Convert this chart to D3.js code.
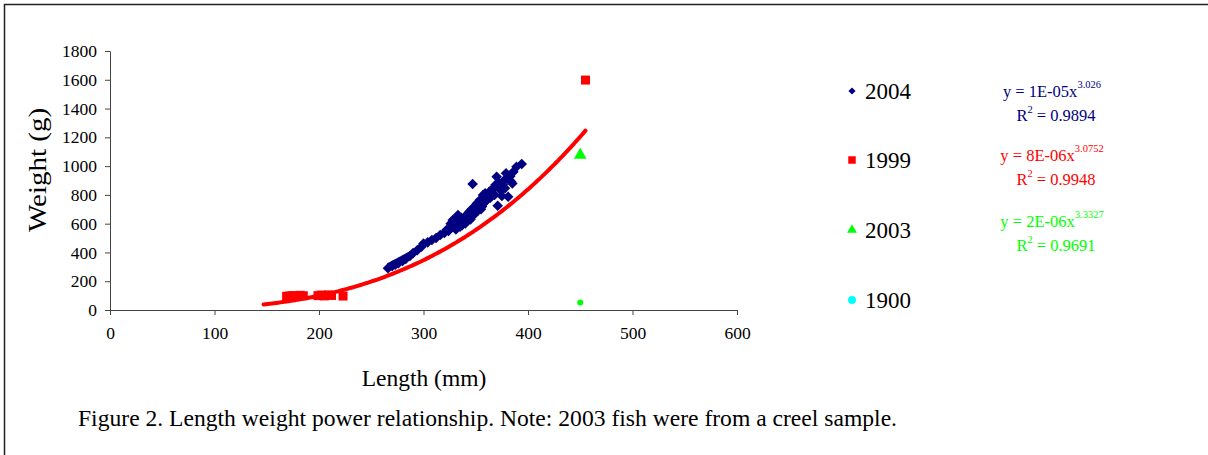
<!DOCTYPE html>
<html>
<head>
<meta charset="utf-8">
<script src="https://cdn.jsdelivr.net/npm/d3@7"></script>
<style>
  body { margin: 0; background: #fff; }
  text { font-family: "Liberation Serif", "Times New Roman", serif; }
</style>
</head>
<body>
<svg id="chart"></svg>
<script>
// ---- data ----
const len2004 = [266, 270, 273, 276, 280, 283, 287, 290, 294, 298, 300, 304, 308, 312, 316, 320, 322, 324, 327, 328,
  330, 332, 333, 335, 336, 338, 340, 342, 343, 344, 346, 347, 348, 349, 351, 352, 354, 356, 357, 359,
  360, 362, 363, 365, 367, 369, 370, 371, 372, 375, 377, 378, 379, 381, 383, 384, 386, 389, 394,
  326, 331, 337, 341, 345, 350, 355, 358, 364, 368, 374, 376, 382, 385];
const wt2004 = [290, 305, 315, 325, 340, 355, 375, 395, 415, 440, 462, 470, 486, 500, 521, 535, 556, 550, 575, 625,
  626, 600, 660, 579, 640, 620, 602, 650, 637, 683, 700, 876, 660, 718, 740, 690, 764, 720, 799, 811,
  760, 800, 822, 830, 850, 870, 926, 725, 880, 792, 900, 846, 950, 787, 930, 891, 960, 996, 1015,
  600, 560, 590, 660, 630, 680, 700, 745, 780, 800, 830, 870, 905, 880];

const len1999 = [169, 172, 175, 178, 182, 185, 199, 202, 205, 209, 212, 223, 455];
const wt1999 = [95, 98, 100, 96, 102, 99, 100, 104, 98, 105, 101, 97, 1598];

const len2003 = [450];
const wt2003 = [1077];
const len2003dot = [450];
const wt2003dot = [52];

const len1900 = [];
const wt1900 = [];

const seriesNames = ["2004", "1999", "2003", "1900"];
const seriesColors = ["#000080", "#ff0000", "#00ff00", "#00ffff"];

// power trend lines y = a * x^b (coefficients tuned to the drawn curves)
const fitA = [1.437e-5, 8.35e-6];
const fitB = [3.026, 3.0752];
const fitFrom = [267, 147];
const fitTo = [393, 455];
const fitColors = ["#000080", "#ff0000"];

// equation labels as printed
const eqCoef = ["1E-05", "8E-06", "2E-06"];
const eqExp = ["3.026", "3.0752", "3.3327"];
const eqR2 = ["0.9894", "0.9948", "0.9691"];
const eqColors = ["#000080", "#ff0000", "#00ff00"];

const xTicks = [0, 100, 200, 300, 400, 500, 600];
const yTicks = [0, 200, 400, 600, 800, 1000, 1200, 1400, 1600, 1800];

// ---- layout ----
const width = 1208;
const height = 455;

const svg = d3.select("#chart")
    .attr("width", width)
    .attr("height", height);

// outer frame (top and left edges are visible)
svg.append("path")
    .attr("d", `M4.5,${height} V4.5 H${width}`)
    .attr("fill", "none")
    .attr("stroke", "#222")
    .attr("stroke-width", 1.5);

const x = d3.scaleLinear().domain([0, 600]).range([110, 737]);
const y = d3.scaleLinear().domain([0, 1800]).range([310, 51]);

// axes
const xAxis = svg.append("g")
    .attr("transform", `translate(0,${y(0)})`)
    .call(d3.axisBottom(x).tickValues(xTicks).tickFormat(d3.format("d"))
        .tickSize(5).tickSizeOuter(0).tickPadding(12));
const yAxis = svg.append("g")
    .attr("transform", `translate(${x(0)},0)`)
    .call(d3.axisLeft(y).tickValues(yTicks).tickFormat(d3.format("d"))
        .tickSize(5).tickSizeOuter(0).tickPadding(8));

[xAxis, yAxis].forEach(ax => {
    ax.attr("font-family", null).attr("font-size", null);
    ax.selectAll("path, line").attr("stroke", "#444");
    ax.selectAll("text").attr("font-size", 17.5).attr("fill", "#000");
});

// axis titles
svg.append("text")
    .attr("x", 424).attr("y", 386)
    .attr("text-anchor", "middle")
    .attr("font-size", 23.5)
    .text("Length (mm)");

svg.append("text")
    .attr("transform", "translate(46,170) scale(0.85,1) rotate(-90)")
    .attr("text-anchor", "middle")
    .attr("font-size", 29)
    .text("Weight (g)");

// markers
const pts2004 = len2004.map((l, i) => [l, wt2004[i]]);
const pts1999 = len1999.map((l, i) => [l, wt1999[i]]);
const pts2003 = len2003.map((l, i) => [l, wt2003[i]]);

svg.append("g").selectAll("path")
    .data(pts2004)
    .enter().append("path")
    .attr("d", d3.symbol().type(d3.symbolSquare).size(56)())
    .attr("transform", d => `translate(${x(d[0])},${y(d[1])}) rotate(45)`)
    .attr("fill", seriesColors[0]);

svg.append("g").selectAll("path")
    .data(pts1999)
    .enter().append("path")
    .attr("d", d3.symbol().type(d3.symbolSquare).size(81)())
    .attr("transform", d => `translate(${x(d[0])},${y(d[1])})`)
    .attr("fill", seriesColors[1]);

svg.append("g").selectAll("path")
    .data(pts2003)
    .enter().append("path")
    .attr("d", d3.symbol().type(d3.symbolTriangle).size(70)())
    .attr("transform", d => `translate(${x(d[0])},${y(d[1])})`)
    .attr("fill", seriesColors[2]);

svg.append("g").selectAll("circle")
    .data(len2003dot.map((l, i) => [l, wt2003dot[i]]))
    .enter().append("circle")
    .attr("cx", d => x(d[0]))
    .attr("cy", d => y(d[1]))
    .attr("r", 3)
    .attr("fill", seriesColors[2]);

// trend lines
const line = d3.line().x(d => x(d[0])).y(d => y(d[1]));
fitA.forEach((a, i) => {
    const pts = d3.range(fitFrom[i], fitTo[i] + 0.5, 2).map(l => [l, a * Math.pow(l, fitB[i])]);
    svg.append("path")
        .datum(pts)
        .attr("d", line)
        .attr("fill", "none")
        .attr("stroke", fitColors[i])
        .attr("stroke-width", 4)
        .attr("stroke-linecap", "round");
});

// legend
const legendY = [91, 160, 230, 300];
const legend = svg.append("g");
seriesNames.forEach((name, i) => {
    const g = legend.append("g").attr("transform", `translate(852,${legendY[i]})`);
    if (i === 0) {
        g.append("path").attr("d", d3.symbol().type(d3.symbolSquare).size(26)()).attr("transform", "rotate(45)");
    } else if (i === 1) {
        g.append("path").attr("d", d3.symbol().type(d3.symbolSquare).size(56)());
    } else if (i === 2) {
        g.append("path").attr("d", d3.symbol().type(d3.symbolTriangle).size(42)());
    } else {
        g.append("circle").attr("r", 4);
    }
    g.selectAll("path, circle").attr("fill", seriesColors[i]);
    g.append("text")
        .attr("x", 13).attr("y", 8)
        .attr("font-size", 23)
        .text(name);
});

// equations
const eqY = [97, 161, 227];
eqCoef.forEach((c, i) => {
    const t1 = svg.append("text")
        .attr("x", 1052).attr("y", eqY[i])
        .attr("text-anchor", "middle")
        .attr("font-size", 16.5)
        .attr("fill", eqColors[i]);
    t1.append("tspan").text(`y = ${c}x`);
    t1.append("tspan").attr("dy", -9).attr("font-size", 10.5).text(eqExp[i]);

    const t2 = svg.append("text")
        .attr("x", 1056).attr("y", eqY[i] + 24)
        .attr("text-anchor", "middle")
        .attr("font-size", 16.5)
        .attr("fill", eqColors[i]);
    t2.append("tspan").text("R");
    t2.append("tspan").attr("dy", -8).attr("font-size", 10.5).text("2");
    t2.append("tspan").attr("dy", 8).text(` = ${eqR2[i]}`);
});

// caption
svg.append("text")
    .attr("x", 78).attr("y", 426)
    .attr("font-size", 23.6)
    .text("Figure 2. Length weight power relationship. Note: 2003 fish were from a creel sample.");
</script>
</body>
</html>
